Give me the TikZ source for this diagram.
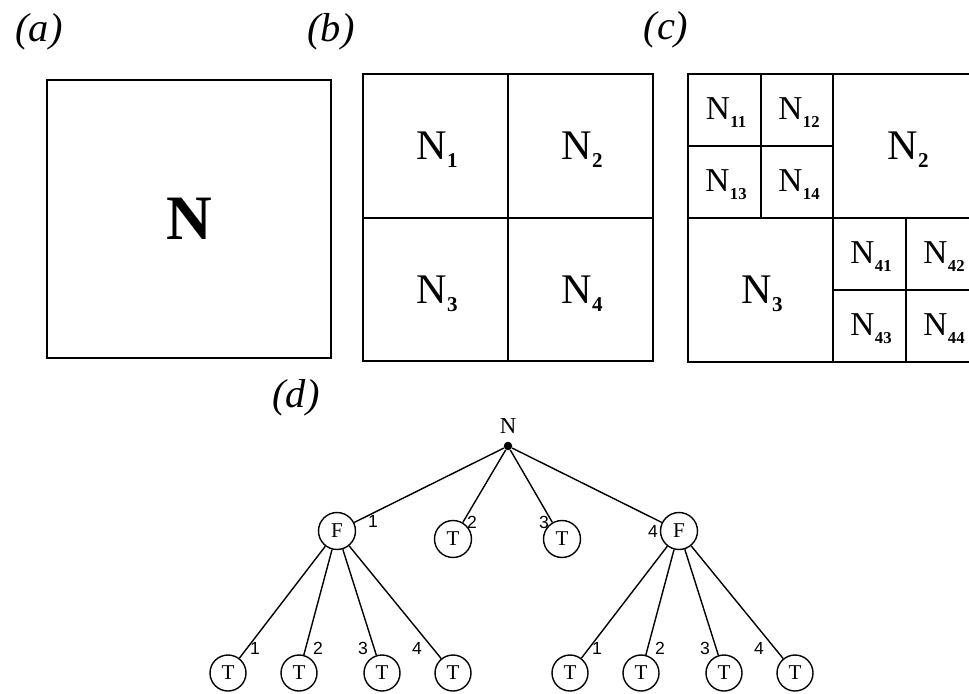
\documentclass[tikz,border=0pt]{standalone}
\usepackage{fontspec}
\setmainfont{Liberation Serif}
\newfontfamily\labelsans{Liberation Sans}
\usetikzlibrary{positioning}
\newcommand{\Nsub}[2][12]{N\kern0.3pt\raisebox{-4.5pt}{\fontsize{#1}{#1}\selectfont\bfseries #2}}
\tikzset{
  part/.style={line width=1.1pt},
  panel/.style={font=\fontsize{23}{26}\selectfont\itshape},
  bigcell/.style={font=\fontsize{24}{26}\selectfont},
  smallcell/.style={font=\fontsize{19}{21}\selectfont},
  inner/.style={circle,draw,line width=0.8pt,minimum size=0.74cm,inner sep=0pt,font=\fontsize{12}{14}\selectfont},
  leaf/.style={circle,draw,line width=0.8pt,minimum size=0.72cm,inner sep=0pt,font=\fontsize{12}{14}\selectfont},
  branch/.style={font=\labelsans\fontsize{10}{11}\selectfont},
  edge/.style={line width=0.8pt}
}

\begin{document}
\begin{tikzpicture}[x=0.02cm,y=-0.02cm]
\useasboundingbox (0,0) rectangle (969,693);
\node[panel] (la) at (39,32) {(a)};
\node[panel] (lb) at (331,32) {(b)};
\node[panel] (lc) at (666,30) {(c)};
\node[panel] (ld) at (296,398) {(d)};
% (a)
\draw[part] (47,80) rectangle (331,358);
\node[font=\fontsize{36}{40}\selectfont\bfseries] (n) at (189,219) {N};
% (b)
\draw[part] (363,74) rectangle (653,361);
\draw[part] (508,74)--(508,361);
\draw[part] (363,218)--(653,218);
\node[bigcell] (b1) at (437,150) {\Nsub{1}};
\node[bigcell] (b2) at (582,150) {\Nsub{2}};
\node[bigcell] (b3) at (437,294) {\Nsub{3}};
\node[bigcell] (b4) at (582,294) {\Nsub{4}};
% (c)
\draw[part] (688,74) rectangle (979,362);
\draw[part] (833,74)--(833,362);
\draw[part] (688,218)--(979,218);
\draw[part] (761,74)--(761,218);
\draw[part] (688,146)--(833,146);
\draw[part] (906,218)--(906,362);
\draw[part] (833,290)--(979,290);
\node[smallcell] (c11) at (726,113) {\Nsub[9.5]{11}};
\node[smallcell] (c12) at (799,113) {\Nsub[9.5]{12}};
\node[smallcell] (c13) at (726,185) {\Nsub[9.5]{13}};
\node[smallcell] (c14) at (799,185) {\Nsub[9.5]{14}};
\node[bigcell] (c2) at (908,150) {\Nsub{2}};
\node[bigcell] (c3) at (762,294) {\Nsub{3}};
\node[smallcell] (c41) at (871,257) {\Nsub[9.5]{41}};
\node[smallcell] (c42) at (944,257) {\Nsub[9.5]{42}};
\node[smallcell] (c43) at (871,329) {\Nsub[9.5]{43}};
\node[smallcell] (c44) at (944,329) {\Nsub[9.5]{44}};
% (d)
\node[circle,fill,inner sep=0pt,minimum size=0.17cm] (root) at (508,446) {};
\node[above=1pt of root,font=\fontsize{13}{14}\selectfont] (rootlab) {N};
\node[inner] (f1) at (337,531) {F};
\node[inner] (t2) at (453,539) {T};
\node[inner] (t3) at (562,539) {T};
\node[inner] (f4) at (679,531) {F};
\draw[edge] (root)--(f1);
\draw[edge] (root)--(t2);
\draw[edge] (root)--(t3);
\draw[edge] (root)--(f4);
\node[branch] (e1) at (373,521) {1};
\node[branch] (e2) at (472,522) {2};
\node[branch] (e3) at (544,522) {3};
\node[branch] (e4) at (653,531) {4};
\node[leaf] (t11) at (228,673) {T};
\node[leaf] (t12) at (299,673) {T};
\node[leaf] (t13) at (382,673) {T};
\node[leaf] (t14) at (453,673) {T};
\node[leaf] (t41) at (570,673) {T};
\node[leaf] (t42) at (641,673) {T};
\node[leaf] (t43) at (724,673) {T};
\node[leaf] (t44) at (795,673) {T};
\draw[edge] (f1)--(t11);
\draw[edge] (f1)--(t12);
\draw[edge] (f1)--(t13);
\draw[edge] (f1)--(t14);
\draw[edge] (f4)--(t41);
\draw[edge] (f4)--(t42);
\draw[edge] (f4)--(t43);
\draw[edge] (f4)--(t44);
\node[branch] (e11) at (255,648) {1};
\node[branch] (e12) at (318,648) {2};
\node[branch] (e13) at (363,648) {3};
\node[branch] (e14) at (417,648) {4};
\node[branch] (e41) at (597,648) {1};
\node[branch] (e42) at (660,648) {2};
\node[branch] (e43) at (705,648) {3};
\node[branch] (e44) at (759,648) {4};
\end{tikzpicture}
\end{document}
